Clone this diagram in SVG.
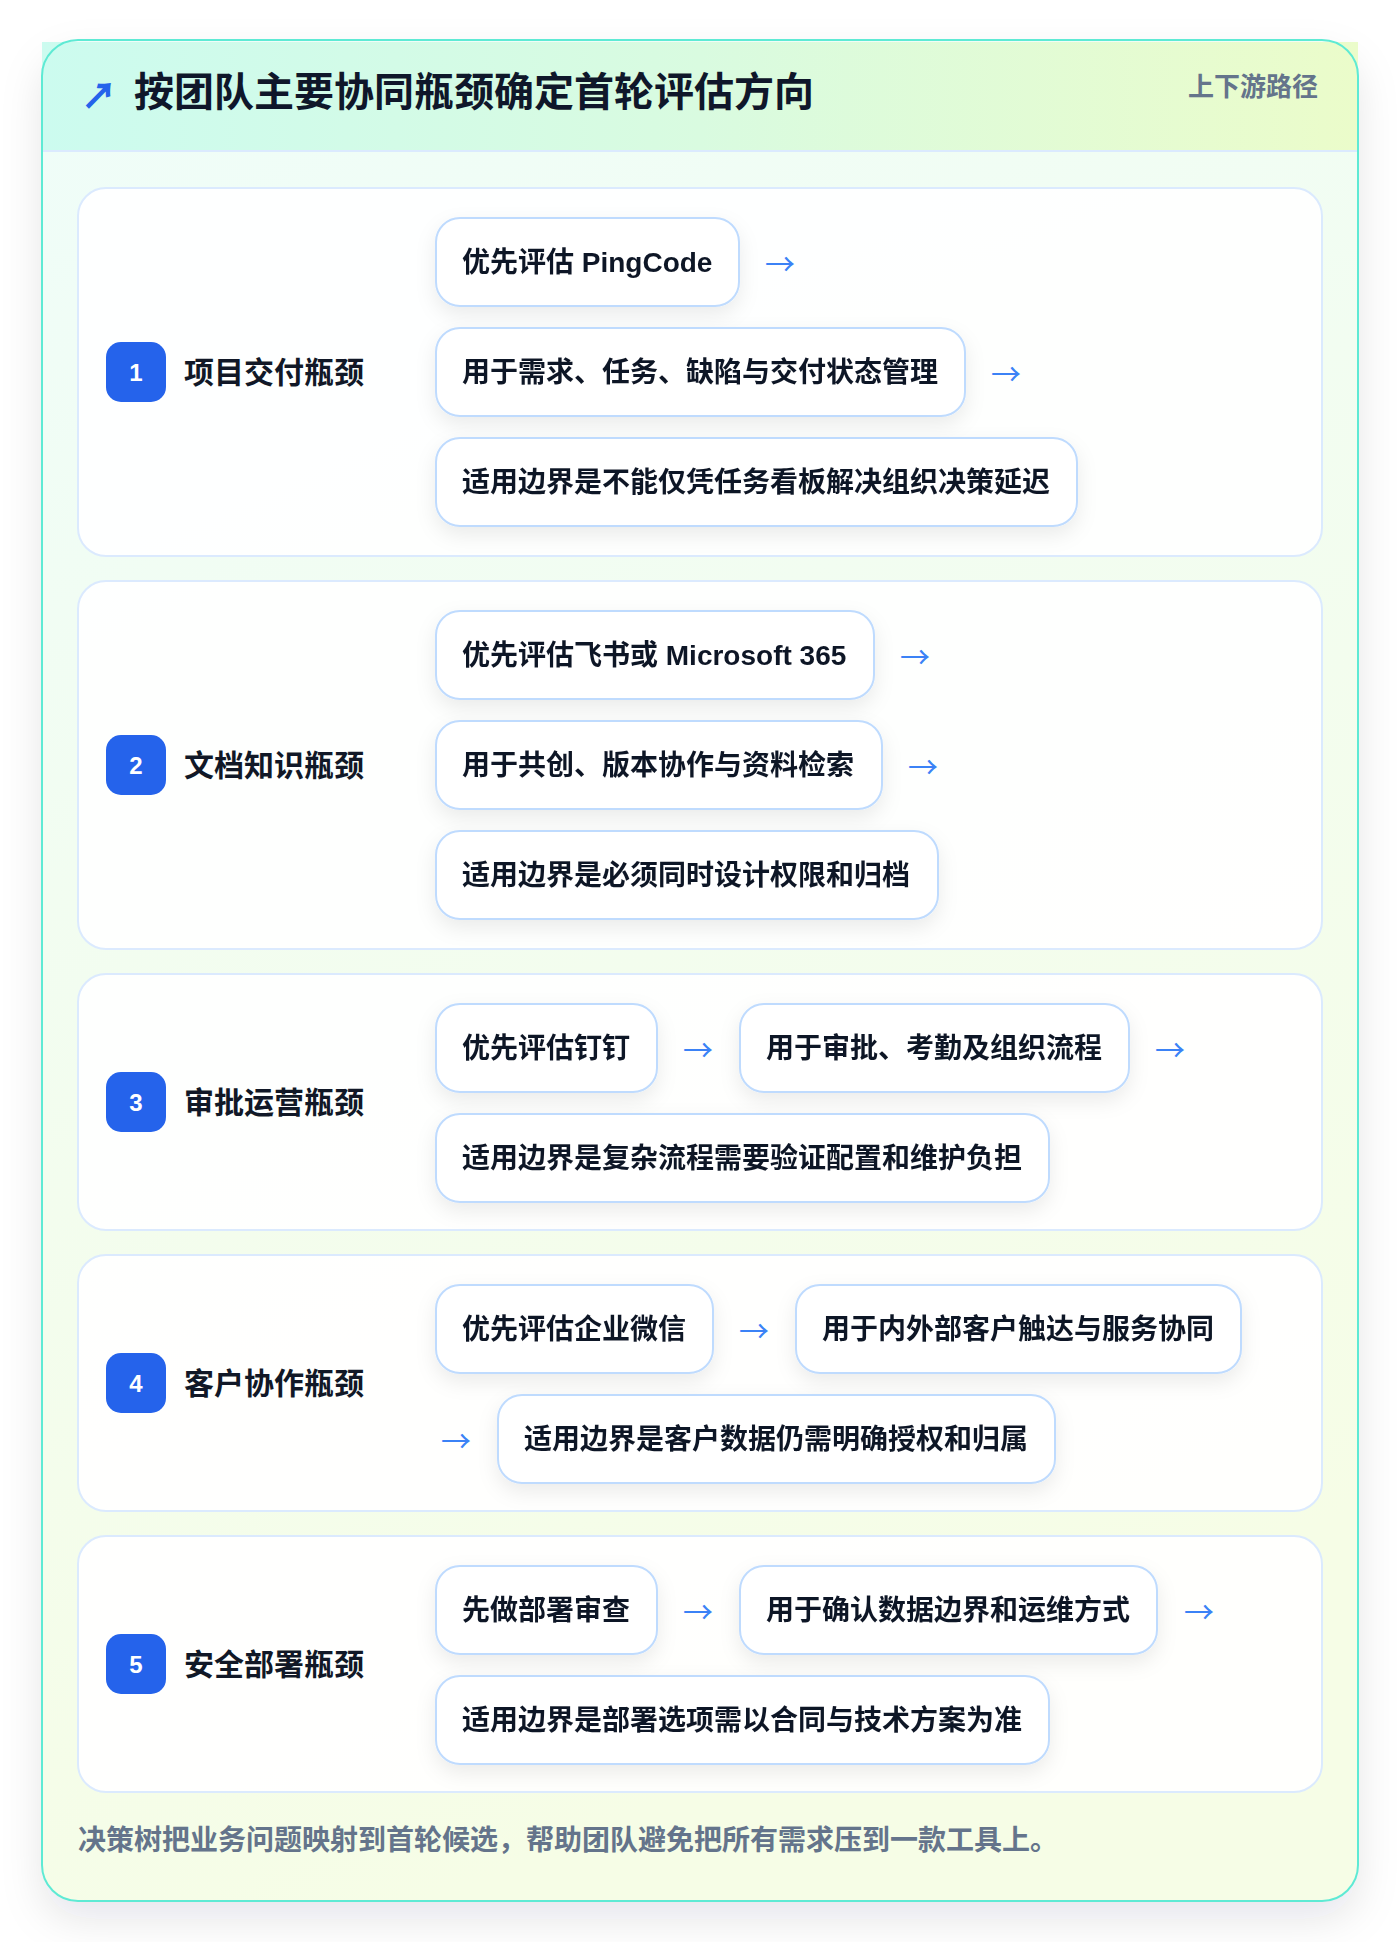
<svg xmlns="http://www.w3.org/2000/svg" width="1400" height="1942" viewBox="0 0 1400 1942">
<defs>
<linearGradient id="hdr" x1="0" y1="0" x2="1" y2="0">
<stop offset="0" stop-color="#ccfbef"/>
<stop offset="0.5" stop-color="#d9fbe0"/>
<stop offset="1" stop-color="#ebfcca"/>
</linearGradient>
<linearGradient id="body" x1="0" y1="0" x2="0.3" y2="1">
<stop offset="0" stop-color="#effdf9"/>
<stop offset="1" stop-color="#f6fde6"/>
</linearGradient>
<filter id="cardShadow" x="-10%" y="-10%" width="120%" height="120%">
<feDropShadow dx="0" dy="18" stdDeviation="20" flood-color="#0f172a" flood-opacity="0.10"/>
</filter>
<filter id="boxShadow" x="-20%" y="-30%" width="140%" height="170%">
<feDropShadow dx="0" dy="8" stdDeviation="10" flood-color="#0f172a" flood-opacity="0.08"/>
</filter>
</defs>
<style>
text{font-family:"Liberation Sans","Noto Sans CJK SC",sans-serif;font-weight:700}
.title{font-size:40px;fill:#0f172a}
.tag{font-size:26px;fill:#64748b}
.sec{fill:#ffffff;fill-opacity:0.92;stroke:#dbeafe;stroke-width:2}
.badge{fill:#2563eb}
.num{font-size:24px;fill:#ffffff}
.lab{font-size:30px;fill:#111827}
.box{fill:#ffffff;stroke:#bfdbfe;stroke-width:2}
.bt{font-size:28px;fill:#111827}
.arr{font-family:"Noto Sans CJK SC","DejaVu Sans",sans-serif;font-size:30px;fill:#3b82f6;font-weight:400}
.foot{font-size:28px;fill:#64748b}
</style>
<rect x="0" y="0" width="1400" height="1942" fill="#ffffff"/>
<g id="card">
<rect x="42" y="40" width="1316" height="1861" rx="36" fill="url(#body)" filter="url(#cardShadow)"/>
<rect x="42" y="42" width="1316" height="109" fill="url(#hdr)"/>
<line x1="42" y1="151" x2="1358" y2="151" stroke="#dbeafe" stroke-width="2"/>
<rect x="42" y="40" width="1316" height="1861" rx="36" fill="none" stroke="#5eead4" stroke-width="2"/>
</g>
<g id="header">
<text x="99" y="93" font-size="36" fill="#2563eb" text-anchor="middle" dominant-baseline="central" style="font-family:'Noto Sans CJK SC','DejaVu Sans',sans-serif;font-weight:900">↗</text>
<text class="title" x="134" y="92" dominant-baseline="central">按团队主要协同瓶颈确定首轮评估方向</text>
<text class="tag" x="1318" y="87" text-anchor="end" dominant-baseline="central">上下游路径</text>
</g>
<g id="section1">
<rect class="sec" x="78" y="188" width="1244" height="368" rx="28"/>
<rect class="badge" x="106" y="342" width="60" height="60" rx="15"/>
<text class="num" x="136" y="372" text-anchor="middle" dominant-baseline="central">1</text>
<text class="lab" x="184" y="372" dominant-baseline="central">项目交付瓶颈</text>
</g>
<g id="s1n1" filter="url(#boxShadow)"><rect class="box" x="436" y="218" width="303" height="88" rx="24"/><text class="bt" x="462" y="262" dominant-baseline="central">优先评估 PingCode</text></g>
<g id="s1n2" filter="url(#boxShadow)"><rect class="box" x="436" y="328" width="529" height="88" rx="24"/><text class="bt" x="462" y="372" dominant-baseline="central">用于需求、任务、缺陷与交付状态管理</text></g>
<g id="s1n3" filter="url(#boxShadow)"><rect class="box" x="436" y="438" width="641" height="88" rx="24"/><text class="bt" x="462" y="482" dominant-baseline="central">适用边界是不能仅凭任务看板解决组织决策延迟</text></g>
<g id="section2">
<rect class="sec" x="78" y="581" width="1244" height="368" rx="28"/>
<rect class="badge" x="106" y="735" width="60" height="60" rx="15"/>
<text class="num" x="136" y="765" text-anchor="middle" dominant-baseline="central">2</text>
<text class="lab" x="184" y="765" dominant-baseline="central">文档知识瓶颈</text>
</g>
<g id="s2n1" filter="url(#boxShadow)"><rect class="box" x="436" y="611" width="438" height="88" rx="24"/><text class="bt" x="462" y="655" dominant-baseline="central">优先评估飞书或 Microsoft 365</text></g>
<g id="s2n2" filter="url(#boxShadow)"><rect class="box" x="436" y="721" width="446" height="88" rx="24"/><text class="bt" x="462" y="765" dominant-baseline="central">用于共创、版本协作与资料检索</text></g>
<g id="s2n3" filter="url(#boxShadow)"><rect class="box" x="436" y="831" width="502" height="88" rx="24"/><text class="bt" x="462" y="875" dominant-baseline="central">适用边界是必须同时设计权限和归档</text></g>
<g id="section3">
<rect class="sec" x="78" y="974" width="1244" height="256" rx="28"/>
<rect class="badge" x="106" y="1072" width="60" height="60" rx="15"/>
<text class="num" x="136" y="1102" text-anchor="middle" dominant-baseline="central">3</text>
<text class="lab" x="184" y="1102" dominant-baseline="central">审批运营瓶颈</text>
</g>
<g id="s3n1" filter="url(#boxShadow)"><rect class="box" x="436" y="1004" width="221" height="88" rx="24"/><text class="bt" x="462" y="1048" dominant-baseline="central">优先评估钉钉</text></g>
<g id="s3n2" filter="url(#boxShadow)"><rect class="box" x="740" y="1004" width="389" height="88" rx="24"/><text class="bt" x="766" y="1048" dominant-baseline="central">用于审批、考勤及组织流程</text></g>
<g id="s3n3" filter="url(#boxShadow)"><rect class="box" x="436" y="1114" width="613" height="88" rx="24"/><text class="bt" x="462" y="1158" dominant-baseline="central">适用边界是复杂流程需要验证配置和维护负担</text></g>
<g id="section4">
<rect class="sec" x="78" y="1255" width="1244" height="256" rx="28"/>
<rect class="badge" x="106" y="1353" width="60" height="60" rx="15"/>
<text class="num" x="136" y="1383" text-anchor="middle" dominant-baseline="central">4</text>
<text class="lab" x="184" y="1383" dominant-baseline="central">客户协作瓶颈</text>
</g>
<g id="s4n1" filter="url(#boxShadow)"><rect class="box" x="436" y="1285" width="277" height="88" rx="24"/><text class="bt" x="462" y="1329" dominant-baseline="central">优先评估企业微信</text></g>
<g id="s4n2" filter="url(#boxShadow)"><rect class="box" x="796" y="1285" width="445" height="88" rx="24"/><text class="bt" x="822" y="1329" dominant-baseline="central">用于内外部客户触达与服务协同</text></g>
<g id="s4n3" filter="url(#boxShadow)"><rect class="box" x="498" y="1395" width="557" height="88" rx="24"/><text class="bt" x="524" y="1439" dominant-baseline="central">适用边界是客户数据仍需明确授权和归属</text></g>
<g id="section5">
<rect class="sec" x="78" y="1536" width="1244" height="256" rx="28"/>
<rect class="badge" x="106" y="1634" width="60" height="60" rx="15"/>
<text class="num" x="136" y="1664" text-anchor="middle" dominant-baseline="central">5</text>
<text class="lab" x="184" y="1664" dominant-baseline="central">安全部署瓶颈</text>
</g>
<g id="s5n1" filter="url(#boxShadow)"><rect class="box" x="436" y="1566" width="221" height="88" rx="24"/><text class="bt" x="462" y="1610" dominant-baseline="central">先做部署审查</text></g>
<g id="s5n2" filter="url(#boxShadow)"><rect class="box" x="740" y="1566" width="417" height="88" rx="24"/><text class="bt" x="766" y="1610" dominant-baseline="central">用于确认数据边界和运维方式</text></g>
<g id="s5n3" filter="url(#boxShadow)"><rect class="box" x="436" y="1676" width="613" height="88" rx="24"/><text class="bt" x="462" y="1720" dominant-baseline="central">适用边界是部署选项需以合同与技术方案为准</text></g>
<g id="connectors">
<text class="arr" x="780" y="262" text-anchor="middle" dominant-baseline="central">→</text>
<text class="arr" x="1006" y="372" text-anchor="middle" dominant-baseline="central">→</text>
<text class="arr" x="915" y="655" text-anchor="middle" dominant-baseline="central">→</text>
<text class="arr" x="923" y="765" text-anchor="middle" dominant-baseline="central">→</text>
<text class="arr" x="698" y="1048" text-anchor="middle" dominant-baseline="central">→</text>
<text class="arr" x="1170" y="1048" text-anchor="middle" dominant-baseline="central">→</text>
<text class="arr" x="754" y="1329" text-anchor="middle" dominant-baseline="central">→</text>
<text class="arr" x="456" y="1439" text-anchor="middle" dominant-baseline="central">→</text>
<text class="arr" x="698" y="1610" text-anchor="middle" dominant-baseline="central">→</text>
<text class="arr" x="1199" y="1610" text-anchor="middle" dominant-baseline="central">→</text>
</g>
<g id="footer">
<text class="foot" x="78" y="1840" dominant-baseline="central">决策树把业务问题映射到首轮候选，帮助团队避免把所有需求压到一款工具上。</text>
</g>
</svg>
